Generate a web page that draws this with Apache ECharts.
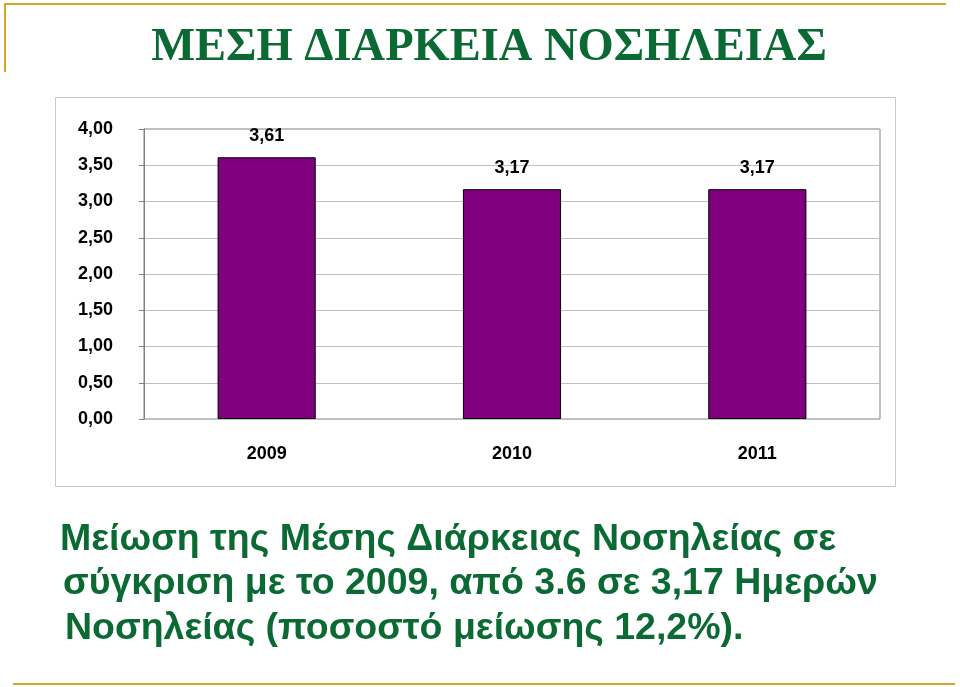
<!DOCTYPE html>
<html><head><meta charset="utf-8">
<script src="https://cdn.jsdelivr.net/npm/echarts@6/dist/echarts.min.js"></script>
<style>html,body{margin:0;padding:0;background:#fff}#c{width:960px;height:687px}</style>
</head><body><div id="c"></div>
<script>
const categories = ['2009', '2010', '2011'];
const values = [3.61, 3.17, 3.17];
const yTicks = [0, 0.5, 1, 1.5, 2, 2.5, 3, 3.5, 4];
const titleText = 'ΜΕΣΗ ΔΙΑΡΚΕΙΑ ΝΟΣΗΛΕΙΑΣ';
const noteLines = [
  'Μείωση της Μέσης Διάρκειας Νοσηλείας σε',
  'σύγκριση με το 2009, από 3.6 σε 3,17 Ημερών',
  'Νοσηλείας (ποσοστό μείωσης 12,2%).'
];
const fmt = v => v.toFixed(2).replace('.', ',');
const green = '#0b6a34';
const gold = '#d4a52a';
const chart = echarts.init(document.getElementById('c'));
chart.setOption({
  animation: false,
  title: {
    text: titleText, left: 484, textAlign: 'center', top: 19,
    textStyle: { fontFamily: 'Liberation Serif', fontWeight: 'bold', fontSize: 46.5, color: green }
  },
  grid: { left: 144, right: 80, top: 129, bottom: 268, show: true, borderColor: '#808080', borderWidth: 1 },
  xAxis: {
    type: 'category', data: categories,
    axisLine: { show: false }, axisTick: { show: false },
    axisLabel: { margin: 26, fontFamily: 'Liberation Sans', fontWeight: 'bold', fontSize: 18, color: '#000' }
  },
  yAxis: {
    type: 'value', min: yTicks[0], max: yTicks[yTicks.length - 1], interval: 0.5,
    axisLine: { show: true, lineStyle: { color: '#808080' } },
    axisTick: { show: true, length: 5, lineStyle: { color: '#808080' } },
    splitLine: { lineStyle: { color: '#c0c0c0' } },
    axisLabel: { margin: 31, fontFamily: 'Liberation Sans', fontWeight: 'bold', fontSize: 18, color: '#000', formatter: fmt }
  },
  series: [{
    type: 'bar', data: values, barWidth: '40%',
    itemStyle: { color: '#800080', borderColor: '#000', borderWidth: 1 },
    label: { show: true, position: 'top', distance: 12, formatter: p => fmt(p.value),
      fontFamily: 'Liberation Sans', fontWeight: 'bold', fontSize: 18, color: '#000' }
  }],
  graphic: [
    { type: 'rect', shape: { x: 55.5, y: 97.5, width: 840, height: 389 }, style: { fill: 'none', stroke: '#c8c8c8', lineWidth: 1 }, z: -1 },
    { type: 'line', shape: { x1: 4, y1: 4, x2: 946, y2: 4 }, style: { stroke: gold, lineWidth: 2 } },
    { type: 'line', shape: { x1: 5, y1: 4, x2: 5, y2: 72 }, style: { stroke: gold, lineWidth: 2 } },
    { type: 'line', shape: { x1: 13, y1: 684, x2: 955, y2: 684 }, style: { stroke: gold, lineWidth: 2 } },
    ...noteLines.map((t, i) => ({
      type: 'text', left: [60, 63, 65][i], top: [521, 565, 610][i],
      style: { text: t, fill: green, font: 'bold 37.5px "Liberation Sans"' }
    }))
  ]
});
</script></body></html>
